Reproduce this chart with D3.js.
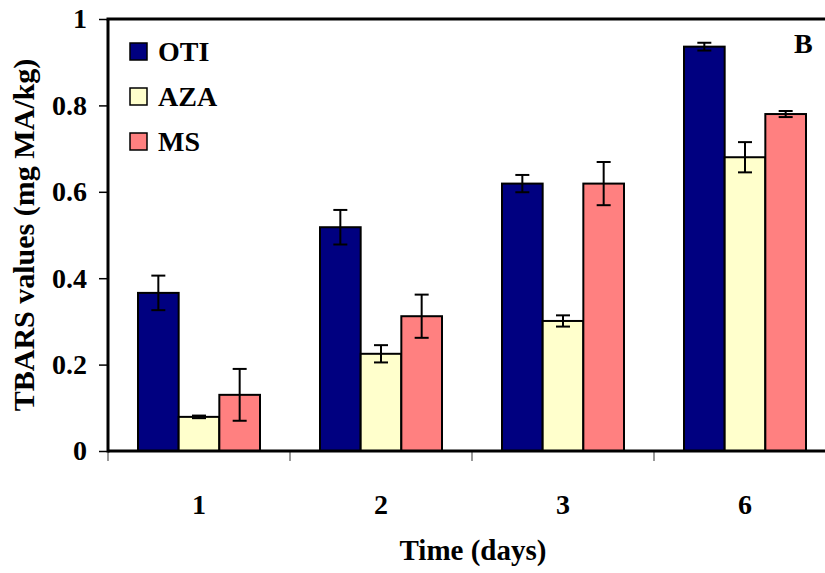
<!DOCTYPE html>
<html>
<head>
<meta charset="utf-8">
<title>TBARS values B</title>
<script src="https://d3js.org/d3.v7.min.js"></script>
<style>
  body { margin: 0; background: #fff; }
  svg { display: block; font-family: "Liberation Serif", "Times New Roman", serif; font-weight: bold; }
</style>
</head>
<body>
<script>
// data
var days = ["1", "2", "3", "6"];
var seriesNames = ["OTI", "AZA", "MS"];
var seriesColors = ["#000080", "#ffffcc", "#ff8080"];
var otiValues = [0.366, 0.518, 0.619, 0.936];
var otiErrors = [0.040, 0.040, 0.020, 0.009];
var azaValues = [0.079, 0.225, 0.301, 0.680];
var azaErrors = [0.003, 0.020, 0.013, 0.035];
var msValues = [0.130, 0.312, 0.619, 0.780];
var msErrors = [0.060, 0.050, 0.050, 0.007];
var yTicks = [0, 0.2, 0.4, 0.6, 0.8, 1];

var width = 825, height = 573;
var plotLeft = 108, plotTop = 19, plotBottom = 451, bandW = 182;

var svg = d3.select("body").append("svg")
    .attr("width", width)
    .attr("height", height);

// scales
var x = d3.scaleBand().domain(days).range([plotLeft, plotLeft + bandW * days.length]);
var xs = d3.scaleBand().domain(seriesNames).range([30, bandW - 30]);
var y = d3.scaleLinear().domain([0, 1]).range([plotBottom, plotTop]);

// build rows from the arrays
var allValues = [otiValues, azaValues, msValues];
var allErrors = [otiErrors, azaErrors, msErrors];
var rows = [];
days.forEach(function(d, i) {
  seriesNames.forEach(function(s, j) {
    rows.push({day: d, series: s, value: allValues[j][i], err: allErrors[j][i], color: seriesColors[j]});
  });
});

// bars
svg.append("g").selectAll("rect")
  .data(rows)
  .join("rect")
    .attr("x", function(d) { return x(d.day) + xs(d.series); })
    .attr("y", function(d) { return y(d.value); })
    .attr("width", xs.bandwidth())
    .attr("height", function(d) { return y(0) - y(d.value); })
    .attr("fill", function(d) { return d.color; })
    .attr("stroke", "#000")
    .attr("stroke-width", 2);

// error bars
function midX(d) { return x(d.day) + xs(d.series) + xs.bandwidth() / 2; }
var eb = svg.append("g").selectAll("g")
  .data(rows)
  .join("g")
    .attr("stroke", "#000")
    .attr("stroke-width", 2);
eb.append("line")
    .attr("x1", midX)
    .attr("x2", midX)
    .attr("y1", function(d) { return y(d.value + d.err); })
    .attr("y2", function(d) { return y(d.value - d.err); });
[1, -1].forEach(function(sign) {
  eb.append("line")
    .attr("x1", function(d) { return midX(d) - 7; })
    .attr("x2", function(d) { return midX(d) + 7; })
    .attr("y1", function(d) { return y(d.value + sign * d.err); })
    .attr("y2", function(d) { return y(d.value + sign * d.err); });
});

// y axis
var yAxis = svg.append("g")
    .attr("transform", "translate(" + plotLeft + ",0)")
    .call(d3.axisLeft(y).tickValues(yTicks).tickSize(9).tickPadding(12)
      .tickFormat(function(d) { return d3.format("")(d); }));
yAxis.select(".domain").remove();
yAxis.selectAll("line").attr("stroke", "#000").attr("stroke-width", 1.5);
yAxis.selectAll("text")
    .attr("font-size", 28)
    .attr("font-family", "Liberation Serif")
    .attr("font-weight", "bold")
    .attr("fill", "#000");

// x axis labels and ticks between groups
var xAxis = svg.append("g")
    .attr("transform", "translate(0," + plotBottom + ")")
    .call(d3.axisBottom(x).tickSize(0).tickPadding(43));
xAxis.select(".domain").remove();
xAxis.selectAll("text")
    .attr("font-size", 28)
    .attr("font-family", "Liberation Serif")
    .attr("font-weight", "bold")
    .attr("fill", "#000");
svg.append("g").selectAll("line")
  .data(days)
  .join("line")
    .attr("x1", function(d) { return x(d); })
    .attr("x2", function(d) { return x(d); })
    .attr("y1", plotBottom)
    .attr("y2", plotBottom + 10)
    .attr("stroke", "#555")
    .attr("stroke-width", 1.2);

// frame: left, bottom and top lines
svg.append("line").attr("x1", plotLeft).attr("x2", width).attr("y1", plotBottom).attr("y2", plotBottom)
    .attr("stroke", "#000").attr("stroke-width", 3);
svg.append("line").attr("x1", plotLeft).attr("x2", plotLeft).attr("y1", plotTop).attr("y2", plotBottom + 1.5)
    .attr("stroke", "#000").attr("stroke-width", 3);
svg.append("line").attr("x1", plotLeft - 1.5).attr("x2", width).attr("y1", plotTop).attr("y2", plotTop)
    .attr("stroke", "#000").attr("stroke-width", 3);

// axis titles
svg.append("text")
    .attr("x", 473)
    .attr("y", 560)
    .attr("text-anchor", "middle")
    .attr("font-size", 29)
    .text("Time (days)");
svg.append("text")
    .attr("transform", "translate(34,235) rotate(-90)")
    .attr("text-anchor", "middle")
    .attr("font-size", 30)
    .text("TBARS values (mg MA/kg)");

// panel letter
svg.append("text")
    .attr("x", 794)
    .attr("y", 53)
    .attr("font-size", 28)
    .text("B");

// legend
var legend = svg.append("g").selectAll("g")
  .data(seriesNames)
  .join("g")
    .attr("transform", function(d, i) { return "translate(130," + (43 + i * 45) + ")"; });
legend.append("rect")
    .attr("width", 17)
    .attr("height", 17)
    .attr("fill", function(d, i) { return seriesColors[i]; })
    .attr("stroke", "#000")
    .attr("stroke-width", 1.5);
legend.append("text")
    .attr("x", 28)
    .attr("y", 18)
    .attr("font-size", 28)
    .text(function(d) { return d; });
</script>
</body>
</html>
